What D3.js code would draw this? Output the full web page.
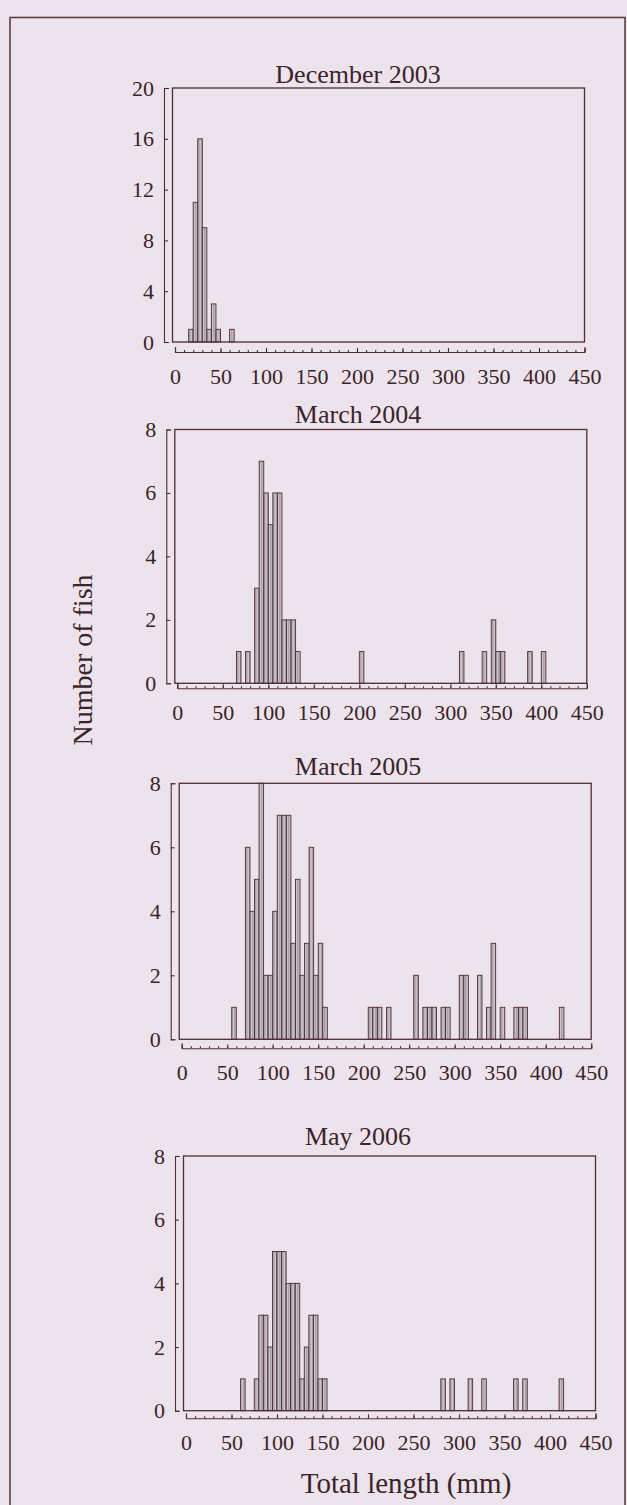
<!DOCTYPE html>
<meta charset="utf-8">
<style>
body { margin: 0; background: #ece3ed; }
text { font-family: "Liberation Serif", "Times New Roman", serif; fill: #3b2428; }
</style>
<svg width="627" height="1505"></svg>
<script src="https://d3js.org/d3.v7.min.js"></script>
<script>

// bin lower edges (mm) and fish counts, 5 mm bins
var dec2003Bins   = [15, 20, 25, 30, 35, 40, 45, 60];
var dec2003Counts = [1, 11, 16, 9, 1, 3, 1, 1];

var mar2004Bins   = [65, 75, 85, 90, 95, 100, 105, 110, 115, 120, 125, 130, 200, 310, 335, 345, 350, 355, 385, 400];
var mar2004Counts = [1, 1, 3, 7, 6, 5, 6, 6, 2, 2, 2, 1, 1, 1, 1, 2, 1, 1, 1, 1];

var mar2005Bins   = [55, 70, 75, 80, 85, 90, 95, 100, 105, 110, 115, 120, 125, 130, 135, 140, 145, 150, 155,
                     205, 210, 215, 225, 255, 265, 270, 275, 285, 290, 305, 310, 325, 335, 340, 350, 365, 370, 375, 415];
var mar2005Counts = [1, 6, 4, 5, 8, 2, 2, 4, 7, 7, 7, 3, 5, 2, 3, 6, 2, 3, 1,
                     1, 1, 1, 1, 2, 1, 1, 1, 1, 1, 2, 2, 2, 1, 3, 1, 1, 1, 1, 1];

var may2006Bins   = [60, 75, 80, 85, 90, 95, 100, 105, 110, 115, 120, 125, 130, 135, 140, 145, 150, 280, 290, 310, 325, 360, 370, 410];
var may2006Counts = [1, 1, 3, 3, 2, 5, 5, 5, 4, 4, 4, 1, 2, 3, 3, 1, 1, 1, 1, 1, 1, 1, 1, 1];

var titles = ["December 2003", "March 2004", "March 2005", "May 2006"];
var xTicks = [0, 50, 100, 150, 200, 250, 300, 350, 400, 450];
var yTicksDec = [0, 4, 8, 12, 16, 20];
var yTicksOther = [0, 2, 4, 6, 8];
var binWidth = 5;

var panels = [
  {title: titles[0], bins: dec2003Bins, counts: dec2003Counts, yMax: 20, yTicks: yTicksDec},
  {title: titles[1], bins: mar2004Bins, counts: mar2004Counts, yMax: 8, yTicks: yTicksOther},
  {title: titles[2], bins: mar2005Bins, counts: mar2005Counts, yMax: 8, yTicks: yTicksOther},
  {title: titles[3], bins: may2006Bins, counts: may2006Counts, yMax: 8, yTicks: yTicksOther}
];

// scanned page is slightly skewed, so each panel sits a bit further right
var layout = [
  {x0: 175,   top: 88,    zero: 342,    axisY: 352,    titleY: 83},
  {x0: 177.3, top: 429.5, zero: 683.3,  axisY: 688.3,  titleY: 423},
  {x0: 181.7, top: 783.3, zero: 1039.3, axisY: 1048.3, titleY: 775},
  {x0: 186,   top: 1156,  zero: 1410.7, axisY: 1418.3, titleY: 1145}
];
var plotW = 409.5;
var ink = "#4a2f35";

var svg = d3.select("svg");

svg.append("rect")
    .attr("width", 627).attr("height", 1505)
    .attr("fill", "#ece3ed");

var defs = svg.append("defs");
var pat = defs.append("pattern")
    .attr("id", "hatch")
    .attr("patternUnits", "userSpaceOnUse")
    .attr("width", 1.5).attr("height", 10);
pat.append("rect").attr("width", 1.5).attr("height", 10).attr("fill", "#dcd2dc");
pat.append("line").attr("x1", 0.5).attr("x2", 0.5).attr("y1", 0).attr("y2", 10)
    .attr("stroke", "#7f7480").attr("stroke-width", 0.6);

// outer frame
svg.append("rect")
    .attr("x", 10).attr("y", 17.5)
    .attr("width", 615).attr("height", 1510)
    .attr("fill", "none").attr("stroke", "#5b3c41").attr("stroke-width", 1.6);

panels.forEach(function(p, i) {
  var L = layout[i];
  var x = d3.scaleLinear().domain([0, 450]).range([L.x0, L.x0 + plotW]);
  var y = d3.scaleLinear().domain([0, p.yMax]).range([L.zero, L.top]);
  var g = svg.append("g");

  g.append("text")
      .attr("x", 358).attr("y", L.titleY)
      .attr("text-anchor", "middle")
      .style("font-size", "26px")
      .text(p.title);

  // bars
  g.selectAll("rect.bar")
    .data(p.bins.map(function(b, j) { return {bin: b, n: p.counts[j]}; }))
    .enter().append("rect")
      .attr("class", "bar")
      .attr("x", function(d) { return x(d.bin); })
      .attr("width", function(d) { return x(d.bin + binWidth) - x(d.bin); })
      .attr("y", function(d) { return y(d.n); })
      .attr("height", function(d) { return y(0) - y(d.n); })
      .attr("fill", "url(#hatch)")
      .attr("stroke", ink)
      .attr("stroke-width", 0.9);

  // plot frame
  g.append("rect")
      .attr("x", L.x0 - 2.5).attr("y", L.top)
      .attr("width", plotW + 2.5).attr("height", L.zero - L.top)
      .attr("fill", "none").attr("stroke", ink).attr("stroke-width", 1.3);

  // x axis, offset below the frame, ticks pointing up
  var xMinor = g.append("g")
      .attr("transform", "translate(0," + L.axisY + ")")
      .call(d3.axisBottom(x).tickValues(d3.range(0, 451, 10)).tickSize(-2).tickFormat(""));
  xMinor.select(".domain").remove();

  var xa = g.append("g")
      .attr("transform", "translate(0," + L.axisY + ")")
      .call(d3.axisBottom(x).tickValues(xTicks).tickSize(-4).tickSizeOuter(-5).tickPadding(16));

  // y axis, offset left of the frame, ticks pointing right
  var ya = g.append("g")
      .attr("transform", "translate(" + (L.x0 - 11) + ",0)")
      .call(d3.axisLeft(y).tickValues(p.yTicks).tickSize(-4).tickSizeOuter(-5).tickPadding(10));

  [xa, ya, xMinor].forEach(function(a) {
    a.attr("color", ink).attr("font-family", null).attr("font-size", null);
    a.selectAll("path, line").attr("stroke-width", 1.1);
    a.selectAll("text").style("font-size", "22px");
  });
});

svg.append("text")
    .attr("transform", "translate(82,660) rotate(-90)")
    .attr("text-anchor", "middle")
    .attr("dy", "0.35em")
    .style("font-size", "28px")
    .text("Number of fish");

svg.append("text")
    .attr("x", 406).attr("y", 1493)
    .attr("text-anchor", "middle")
    .style("font-size", "29px")
    .text("Total length (mm)");

</script>
